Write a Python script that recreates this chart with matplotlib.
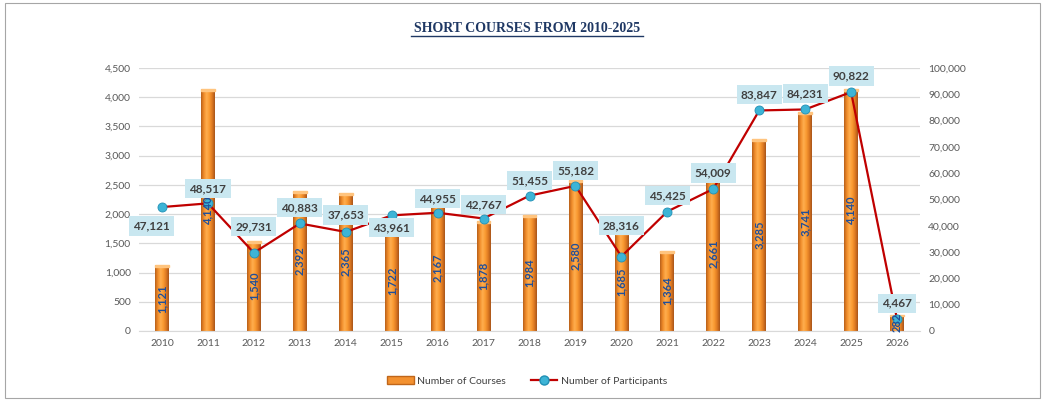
import matplotlib.pyplot as plt
import numpy as np
from matplotlib.colors import LinearSegmentedColormap
from matplotlib.lines import Line2D
from matplotlib.patches import Patch, Rectangle
from matplotlib.ticker import FuncFormatter

years = ["2010", "2011", "2012", "2013", "2014", "2015", "2016", "2017", "2018",
         "2019", "2020", "2021", "2022", "2023", "2024", "2025", "2026"]
courses = [1121, 4140, 1540, 2392, 2365, 1722, 2167, 1878, 1984,
           2580, 1685, 1364, 2661, 3285, 3741, 4140, 282]
participants = [47121, 48517, 29731, 40883, 37653, 43961, 44955, 42767, 51455,
                55182, 28316, 45425, 54009, 83847, 84231, 90822, 4467]

# label offsets (pixels) for the participant boxes
lbl_dx = [-11, 0, 0, 0, 0, 0, 0, 0, 0, 0, 0, 0, 0, 0, 0, 0, 0]
lbl_dy = [-19, 15, 26, 16, 17, -12, 14, 14, 15, 15, 31, 16, 16, 16, 16, 16, 16]

plt.rcParams['font.family'] = ['Lato', 'DejaVu Sans']

fig = plt.figure(figsize=(10.47, 4.01), dpi=100)
fig.patches.append(Rectangle((0.005, 0.008), 0.988, 0.985, transform=fig.transFigure,
                             fill=False, edgecolor='#A6A6A6', linewidth=0.8))

ax = fig.add_axes([0.1328, 0.1746, 0.7459, 0.6559])
ax2 = ax.twinx()

x = np.arange(len(years))
cmap = LinearSegmentedColormap.from_list(
    'orng', ['#B8601A', '#F08C2A', '#FFAE4E', '#FA9A32', '#DE7A22', '#A9551A'])
grad = np.linspace(0, 1, 64).reshape(1, -1)
bw = 0.3
bars = ax.bar(x, courses, width=bw, color='#F39130', zorder=2)
for b, v in zip(bars, courses):
    im = ax.imshow(grad, extent=[b.get_x(), b.get_x() + bw, 0, v], aspect='auto',
                   cmap=cmap, zorder=2.1)
    im.set_clip_path(b)
    ax.add_patch(Rectangle((b.get_x(), v - 30), bw, 30, color='#FFC47E', zorder=2.2))

ax.set_xlim(-0.5, len(years) - 0.5)
ax.set_ylim(0, 4500)
ax.set_yticks(np.arange(0, 4501, 500))
ax.yaxis.set_major_formatter(FuncFormatter(lambda v, p: f"{int(v):,}"))
ax.set_xticks(x)
ax.set_xticklabels(years)
ax.grid(axis='y', color='#D9D9D9', linewidth=0.9, zorder=0)
ax.set_axisbelow(True)

ax2.plot(x, participants, color='#C00000', linewidth=1.6, marker='o', markersize=6.5,
         markerfacecolor='#3DB4D6', markeredgecolor='#2090B5', markeredgewidth=0.6,
         zorder=4)
ax2.set_ylim(0, 100000)
ax2.set_yticks(np.arange(0, 100001, 10000))
ax2.yaxis.set_major_formatter(FuncFormatter(lambda v, p: f"{int(v):,}"))

# course values inside bars, drawn on top of the line
for b, v in zip(bars, courses):
    t = ax2.text(b.get_x() + bw / 2, v / 2, f"{v:,}", rotation=90, ha='center',
                 va='center', fontsize=8, fontweight='bold', color='#1F4E9A',
                 zorder=5, transform=ax.transData)
    t.set_clip_path(b)

for i, v in enumerate(participants):
    ax2.annotate(f"{v:,}", (x[i], v), xytext=(lbl_dx[i], lbl_dy[i]),
                 textcoords='offset pixels', ha='center', va='center',
                 fontsize=8.5, fontweight='bold', color='#404040', zorder=6,
                 bbox=dict(boxstyle='square,pad=0.35', facecolor='#C9E7F0',
                           edgecolor='none'))

for a in (ax, ax2):
    for s in a.spines.values():
        s.set_visible(False)
    a.tick_params(length=0, labelsize=7.5, labelcolor='#595959', pad=6)
ax.spines['bottom'].set_visible(True)
ax.spines['bottom'].set_color('#D9D9D9')

fig.text(0.5035, 0.93, "SHORT COURSES FROM 2010-2025", ha='center', va='center',
         fontsize=10, fontweight='bold', color='#1F3864', family='Liberation Serif')
fig.add_artist(Line2D([0.393, 0.614], [0.91, 0.91], color='#1F3864', linewidth=1,
                      transform=fig.transFigure))

handles = [Patch(facecolor='#F39130', edgecolor='#C0661A'),
           Line2D([0], [0], color='#C00000', linewidth=1.6, marker='o', markersize=6.5,
                  markerfacecolor='#3DB4D6', markeredgecolor='#2090B5')]
fig.legend(handles, ["Number of Courses", "Number of Participants"], loc='center',
           bbox_to_anchor=(0.5035, 0.05), ncol=2, frameon=False, fontsize=7.5,
           handlelength=2.5, handletextpad=0.3, columnspacing=2.5,
           labelcolor='#404040')

fig.savefig("out.png", dpi=100)
